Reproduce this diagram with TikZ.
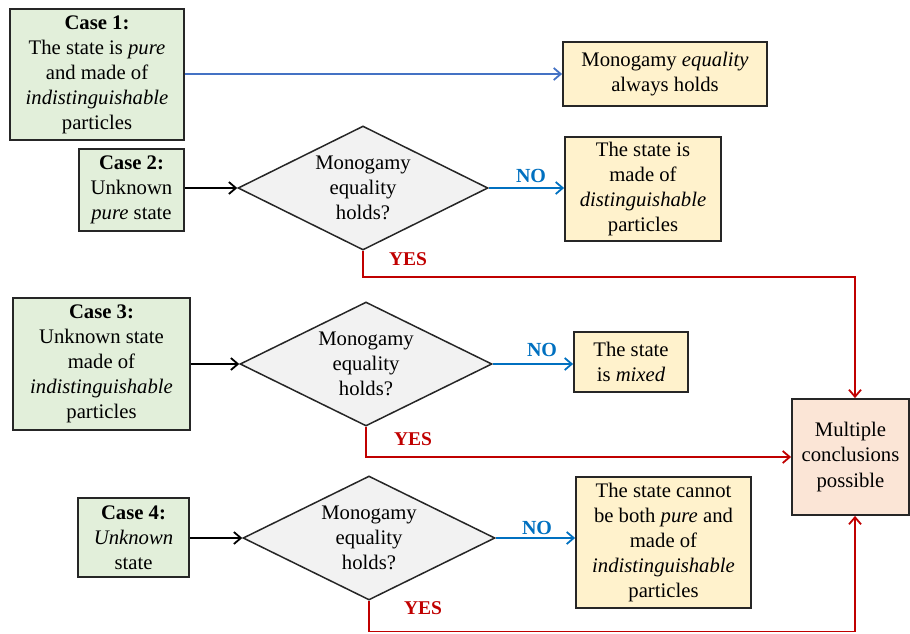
\documentclass[tikz,border=0pt]{standalone}
\usepackage{fontspec}
\setmainfont{Liberation Serif}
\usetikzlibrary{shapes.geometric,arrows.meta,calc}
\definecolor{cgreen}{HTML}{E2EFDA}
\definecolor{cyellow}{HTML}{FFF2CC}
\definecolor{cpink}{HTML}{FBE5D6}
\definecolor{cgray}{HTML}{F2F2F2}
\definecolor{cblue}{HTML}{0070C0}
\definecolor{lblue}{HTML}{4472C4}
\definecolor{cred}{HTML}{C00000}
\begin{document}
\begin{tikzpicture}[x=1pt,y=-1pt,
  every node/.style={font=\fontsize{20.7}{25}\selectfont, align=center, inner sep=0pt},
  boxbase/.style={draw=black!85, line width=1.8pt, rectangle},
  cbox/.style={boxbase, fill=cgreen},
  rbox/.style={boxbase, fill=cyellow},
  mbox/.style={boxbase, fill=cpink},
  dec/.style={draw=black!85, line width=1.5pt, shape=diamond, aspect=2, fill=cgray},
  arr/.style={line width=1.8pt, -{Straight Barb[length=7pt,width=12pt,line width=1.8pt]}},
  blackarr/.style={arr, draw=black},
  noarr/.style={arr, draw=cblue},
  yesarr/.style={arr, draw=cred},
  nolab/.style={font=\fontsize{20}{25}\selectfont\bfseries, text=cblue},
  yeslab/.style={font=\fontsize{19.5}{24}\selectfont\bfseries, text=cred}
]
\useasboundingbox (0,0) rectangle (910,633);

% Case boxes
\node[cbox, minimum width=174pt, minimum height=131pt] (c1) at (97,74.5)
  {\textbf{Case 1:}\\The state is \textit{pure}\\and made of\\\textit{indistinguishable}\\particles};
\node[cbox, minimum width=105pt, minimum height=82pt] (c2) at (131.5,190)
  {\textbf{Case 2:}\\Unknown\\\textit{pure} state};
\node[cbox, minimum width=177pt, minimum height=132pt] (c3) at (101.5,364)
  {\textbf{Case 3:}\\Unknown state\\made of\\\textit{indistinguishable}\\particles};
\node[cbox, minimum width=111pt, minimum height=79pt] (c4) at (133.5,537.5)
  {\textbf{Case 4:}\\\textit{Unknown}\\state};

% Diamonds
\node[dec, minimum width=250pt, minimum height=124pt] (d1) at (363,188)
  {Monogamy\\equality\\holds?};
\node[dec, minimum width=252pt, minimum height=124pt] (d2) at (366,364)
  {Monogamy\\equality\\holds?};
\node[dec, minimum width=252pt, minimum height=124pt] (d3) at (369,538)
  {Monogamy\\equality\\holds?};

% Result boxes
\node[rbox, minimum width=204pt, minimum height=64pt] (r1) at (665,74)
  {Monogamy \textit{equality}\\always holds};
\node[rbox, minimum width=156pt, minimum height=104pt] (r2) at (643,189)
  {The state is\\made of\\\textit{distinguishable}\\particles};
\node[rbox, minimum width=114pt, minimum height=60pt] (r3) at (631,362)
  {The state\\is \textit{mixed}};
\node[rbox, minimum width=175pt, minimum height=131pt] (r4) at (663.5,542.5)
  {The state cannot\\be both \textit{pure} and\\made of\\\textit{indistinguishable}\\particles};
\node[mbox, minimum width=117pt, minimum height=116pt, font=\fontsize{20.7}{25.5}\selectfont] (mc) at (850.5,457)
  {Multiple\\conclusions\\possible};

% Junction coordinates
\coordinate (j1) at (855,277);
\coordinate (j3) at (855,631.5);

% Connectors
\draw[arr, draw=lblue] (c1.east |- r1.west) -- (r1.west);
\draw[blackarr] (c2.east |- d1.west) -- (d1.west);
\draw[blackarr] (c3.east |- d2.west) -- (d2.west);
\draw[blackarr] (c4.east |- d3.west) -- (d3.west);

\draw[noarr] (d1.east) -- (d1.east -| r2.west);
\draw[noarr] (d2.east) -- (d2.east -| r3.west);
\draw[noarr] (d3.east) -- (d3.east -| r4.west);

\draw[yesarr] (d1.south) |- (j1) -- (j1 |- mc.north);
\draw[yesarr] (d2.south) |- (mc.west);
\draw[yesarr] (d3.south) |- (j3) -- (j3 |- mc.south);

% Labels
\node[nolab] (no1) at (531,176) {NO};
\node[nolab] (no2) at (542,350) {NO};
\node[nolab] (no3) at (537,528) {NO};
\node[yeslab] (yes1) at (408,259) {YES};
\node[yeslab] (yes2) at (413,439) {YES};
\node[yeslab] (yes3) at (423,608) {YES};
\end{tikzpicture}
\end{document}
